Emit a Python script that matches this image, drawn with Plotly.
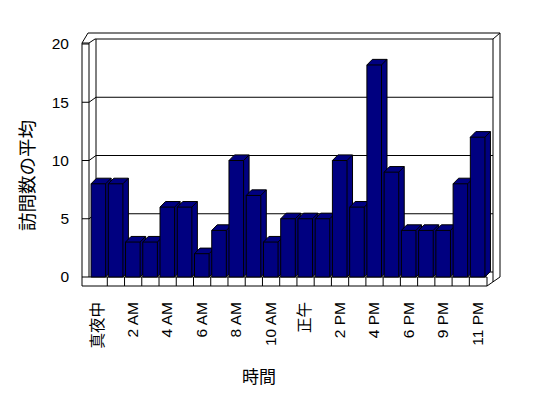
import plotly.graph_objects as go

# ---------------- data ----------------
categories = ["真夜中", "1 AM", "2 AM", "3 AM", "4 AM", "5 AM", "6 AM", "7 AM",
              "8 AM", "9 AM", "10 AM", "11 AM", "正午", "1 PM", "2 PM", "3 PM",
              "4 PM", "5 PM", "6 PM", "8 PM", "9 PM", "10 PM", "11 PM"]
visits = [8, 8, 3, 3, 6, 6, 2, 4, 10, 7, 3, 5, 5, 5, 10, 6, 18.2, 9, 4, 4, 4, 8, 12]
y_ticks = [0, 5, 10, 15, 20]
y_title = "訪問数の平均"
x_title = "時間"

# ---------------- layout geometry (page pixels) ----------------
OFF = 8                                   # default page body margin
W, H = 540, 390                           # figure size (fits inside 548x398 page)
L, R, T, B = 72, 506, 26, 292             # plot area in page pixels
X0PX, CATPX = 90.06, 17.24                # category edge 0 and category width
Y0PX, UNITPX = 277.0, 11.65               # value 0 and px per value unit

def X(px):
    return (px - X0PX) / CATPX

def Y(py):
    return (Y0PX - py) / UNITPX

def PX(px):
    return (px - L) / (R - L)

def PY(py):
    return (B - py) / (B - T)

NAVY = "#000080"
FONT = "Liberation Sans, Noto Sans CJK JP"
CJK = "Noto Sans CJK JP"

fig = go.Figure()

# bars with pseudo-3D faces, drawn left to right so each one hides the previous side
bar_off = 1.0 / CATPX
bar_w = 14.6 / CATPX
ddx = 5.5 / CATPX
ddy = 5.6 / UNITPX
for i, v in enumerate(visits):
    x0 = i + bar_off
    x1 = x0 + bar_w
    fig.add_trace(go.Scatter(
        x=[x0, x0, x0 + ddx, x1 + ddx, x1 + ddx, x1, x0],
        y=[0, v, v + ddy, v + ddy, ddy, 0, 0],
        mode="lines", fill="toself", fillcolor=NAVY,
        line=dict(color="black", width=1), hoverinfo="skip", showlegend=False))
    fig.add_trace(go.Scatter(
        x=[x0, x1, x1, None, x1, x1 + ddx],
        y=[v, v, 0, None, v, v + ddy],
        mode="lines", line=dict(color="black", width=1),
        hoverinfo="skip", showlegend=False))

shapes = []

def seg(x1, y1, x2, y2):
    shapes.append(dict(type="line", xref="x", yref="y", layer="below",
                       x0=X(x1), y0=Y(y1), x1=X(x2), y1=Y(y2),
                       line=dict(color="black", width=1)))

# walls / floor outline
seg(82, 43, 82, 286)       # left wall outer
seg(89, 43, 89, 277)       # left wall inner front
seg(96, 39, 96, 272)       # back wall left edge
seg(82, 43, 89, 43)
seg(82, 43, 88, 33)
seg(89, 43, 95, 39)
seg(88, 33, 500, 33)       # back wall outer top
seg(95, 39, 493, 39)       # back wall top (value 20)
seg(493, 39, 493, 282)     # back wall right edge
seg(500, 33, 500, 277)     # outer right edge
seg(493, 39, 500, 33)
seg(500, 277, 487, 286)
seg(89, 277, 487, 277)     # floor front top edge
seg(82, 286, 487, 286)     # floor bottom edge
seg(487, 277, 487, 286)
seg(96, 272, 493, 272)     # floor back edge
# category ticks on floor front
for k in range(1, len(visits)):
    px = X0PX + CATPX * k
    seg(px, 277, px, 286)
# gridlines on back wall + slanted parts on left wall + ticks on wall front
for v in y_ticks:
    py = Y0PX - UNITPX * v
    seg(82, py, 89, py)
    if 0 < v < 20:
        seg(89, py, 96, py - 5)
        seg(96, py - 5, 493, py - 5)

tick_vals = [i + bar_off + bar_w / 2 for i in range(0, len(categories), 2)]
tick_text = [categories[i] for i in range(0, len(categories), 2)]

fig.update_layout(
    width=W, height=H,
    margin=dict(l=L - OFF, r=W - (R - OFF), t=T - OFF, b=H - (B - OFF)),
    paper_bgcolor="white", plot_bgcolor="white",
    showlegend=False, hovermode=False,
    font=dict(family=FONT, size=15.5, color="black"),
    shapes=shapes,
    xaxis=dict(range=[X(L), X(R)], showgrid=False, zeroline=False, showline=False,
               tickmode="array", tickvals=tick_vals, ticktext=tick_text,
               tickangle=-90, ticks="", ticklabelstandoff=6,
               tickfont=dict(family=FONT, size=15.5, color="black"), fixedrange=True),
    yaxis=dict(range=[Y(B), Y(T)], showgrid=False, zeroline=False, showline=False,
               tickmode="array", tickvals=y_ticks, ticks="",
               ticklabelstandoff=2,
               tickfont=dict(family=FONT, size=15.5, color="black"), fixedrange=True),
    annotations=[
        dict(text=x_title, xref="paper", yref="paper", x=PX(259), y=PY(375),
             showarrow=False, font=dict(family=CJK, size=17, color="black"),
             xanchor="center", yanchor="middle"),
        dict(text=y_title, xref="paper", yref="paper", x=PX(26), y=PY(176),
             showarrow=False, textangle=-90,
             font=dict(family=CJK, size=18.5, color="black"),
             xanchor="center", yanchor="middle"),
    ],
)

fig.write_html("out.html")
